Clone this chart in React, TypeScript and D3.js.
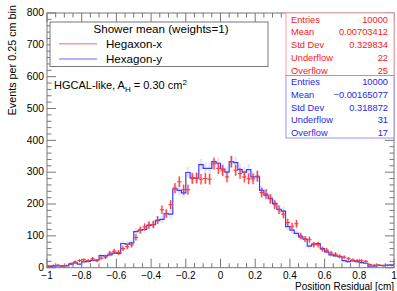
import React from 'react';
import * as d3 from 'd3';

// histogram contents, 80 bins of 0.025 from -1 to 1
const binEdges = [-1, 1];
const nBins = 80;
const hegaxonX = [
  5, 7, 8, 6, 7, 13, 18, 22, 25, 22,
  28, 22, 30, 33, 46, 52, 48, 60, 66, 72,
  95, 118, 128, 134, 136, 150, 182, 170, 198, 250,
  270, 245, 245, 280, 282, 278, 280, 278, 326, 312,
  305, 285, 333, 306, 296, 285, 279, 279, 288, 236,
  232, 216, 198, 182, 168, 142, 130, 138, 100, 90,
  88, 72, 72, 58, 55, 46, 42, 36, 33, 28,
  24, 22, 22, 20, 10, 8, 8, 6, 7, 7
];
const hexagonY = [
  4, 5, 6, 5, 6, 11, 15, 11, 18, 20,
  23, 24, 38, 37, 40, 46, 45, 76, 74, 78,
  113, 118, 120, 133, 135, 148, 152, 170, 168, 248,
  243, 235, 299, 282, 281, 324, 312, 312, 333, 328,
  310, 300, 333, 330, 308, 300, 308, 285, 285, 243,
  228, 218, 202, 183, 178, 129, 118, 108, 97, 90,
  68, 74, 76, 60, 50, 40, 37, 35, 22, 19,
  22, 19, 16, 14, 5, 5, 7, 7, 8, 9
];

const xMajor = [-1, -0.8, -0.6, -0.4, -0.2, 0, 0.2, 0.4, 0.6, 0.8, 1];
const xLabels = ['\u22121', '\u22120.8', '\u22120.6', '\u22120.4', '\u22120.2', '0', '0.2', '0.4', '0.6', '0.8', '1'];
const yMajor = [0, 100, 200, 300, 400, 500, 600, 700, 800];

const redStats = [['Entries', '10000'], ['Mean', '0.00703412'], ['Std Dev', '0.329834'], ['Underflow', '22'], ['Overflow', '25']];
const blueStats = [['Entries', '10000'], ['Mean', '\u22120.00165077'], ['Std Dev', '0.318872'], ['Underflow', '31'], ['Overflow', '17']];

const W = 397, H = 291;
const frame = { left: 47, right: 394, top: 13, bottom: 267.7 };
const font = '"Liberation Sans", Arial, Helvetica, sans-serif';
const RED = 'rgb(255,50,50)';
const BLUE = 'rgb(60,60,255)';
const axisCol = '#777';

export default function App() {
  const x = d3.scaleLinear().domain(binEdges).range([frame.left, frame.right]);
  const y = d3.scaleLinear().domain([0, 800]).range([frame.bottom, frame.top]);
  const bw = (binEdges[1] - binEdges[0]) / nBins;
  const lo = (i: number) => binEdges[0] + i * bw;

  const stepPts: [number, number][] = [];
  hexagonY.forEach((v, i) => {
    stepPts.push([x(lo(i)), y(v)]);
    stepPts.push([x(lo(i + 1)), y(v)]);
  });
  const step = d3.line()(stepPts) || '';

  const xMinor = d3.range(-1, 1.0001, 0.05);
  const yMinor = d3.range(0, 800.1, 20);

  const errBox = (vals: number[], fill: string, key: string) =>
    vals.map((v, i) => {
      const e = Math.sqrt(v);
      const xc = x(lo(i) + bw / 2);
      const w = (x(lo(i + 1)) - x(lo(i))) * 0.6;
      return <rect key={key + i} x={xc - w / 2} y={y(v + e)} width={w} height={Math.min(y(v - e), frame.bottom) - y(v + e)} fill={fill} />;
    });

  const stats = (rows: string[][], top: number, col: string, border: string) => (
    <g>
      <rect x={286} y={top} width={108} height={62.5} fill="white" stroke={border} strokeWidth={1} />
      {rows.map((r, i) => (
        <g key={r[0]} fill={col} fontSize={9.3} fontFamily={font}>
          <text x={291} y={top + 9.5 + i * 12.8}>{r[0]}</text>
          <text x={388} y={top + 9.5 + i * 12.8} textAnchor="end">{r[1]}</text>
        </g>
      ))}
    </g>
  );

  return (
    <svg width={W} height={H} style={{ position: 'absolute', left: 0, top: 0, background: 'white' }}>
      {/* error boxes */}
      {errBox(hegaxonX, 'rgba(255,0,0,0.2)', 'rb')}
      {errBox(hexagonY, 'rgba(0,0,255,0.1)', 'bb')}
      <path d={step} fill="none" stroke={BLUE} strokeWidth={1.2} />
      {hegaxonX.map((v, i) => {
        const e = Math.sqrt(v);
        const xc = x(lo(i) + bw / 2);
        return (
          <g key={'r' + i} stroke={RED} strokeWidth={1}>
            <line x1={x(lo(i))} x2={x(lo(i + 1))} y1={y(v)} y2={y(v)} />
            <line x1={xc} x2={xc} y1={y(v + e)} y2={Math.min(y(v - e), frame.bottom)} />
          </g>
        );
      })}

      {/* frame and ticks */}
      <rect x={frame.left} y={frame.top} width={frame.right - frame.left} height={frame.bottom - frame.top} fill="none" stroke={axisCol} strokeWidth={1} />
      {xMinor.map((t, i) => {
        const major = Math.abs(Math.round(t * 5) - t * 5) < 1e-6;
        const len = major ? 9 : 4.5;
        return (
          <g key={'xt' + i} stroke={axisCol}>
            <line x1={x(t)} x2={x(t)} y1={frame.bottom} y2={frame.bottom - len} />
            <line x1={x(t)} x2={x(t)} y1={frame.top} y2={frame.top + len} />
          </g>
        );
      })}
      {yMinor.map((t, i) => {
        const major = Math.round(t) % 100 === 0;
        const len = major ? 9 : 4.5;
        return (
          <g key={'yt' + i} stroke={axisCol}>
            <line x1={frame.left} x2={frame.left + len} y1={y(t)} y2={y(t)} />
            <line x1={frame.right} x2={frame.right - len} y1={y(t)} y2={y(t)} />
          </g>
        );
      })}
      {xMajor.map((t, i) => (
        <text key={'xl' + i} x={x(t)} y={279.3} textAnchor="middle" fontSize={10} fontFamily={font}>{xLabels[i]}</text>
      ))}
      {yMajor.map((t) => (
        <text key={'yl' + t} x={44} y={y(t) + 3.3} textAnchor="end" fontSize={10.3} fontFamily={font}>{t}</text>
      ))}
      <text x={394} y={290.4} textAnchor="end" fontSize={10} fontFamily={font}>Position Residual [cm]</text>
      <text transform="translate(16,5) rotate(-90)" textAnchor="end" fontSize={10.8} fontFamily={font}>Events per 0.25 cm bin</text>

      {/* legend */}
      <rect x={50} y={22} width={218} height={44.5} fill="white" stroke={axisCol} strokeWidth={1} />
      <text x={161} y={33} textAnchor="middle" fontSize={11.6} fontFamily={font}>Shower mean (weights=1)</text>
      <line x1={59} x2={97} y1={43.7} y2={43.7} stroke="rgba(255,0,0,0.4)" strokeWidth={1.5} />
      <line x1={59} x2={97} y1={59} y2={59} stroke="rgba(0,0,255,0.4)" strokeWidth={1.5} />
      <text x={106} y={48} fontSize={11.6} fontFamily={font}>Hegaxon-x</text>
      <text x={106} y={63.3} fontSize={11.6} fontFamily={font}>Hexagon-y</text>

      <text x={54} y={89} fontSize={11} fontFamily={font}>
        HGCAL-like, A<tspan dy={3} fontSize={8}>H</tspan><tspan dy={-3}> = 0.30 cm</tspan><tspan dy={-4} fontSize={8}>2</tspan>
      </text>

      {stats(redStats, 13, 'rgb(255,20,20)', 'rgb(255,160,160)')}
      {stats(blueStats, 75.5, 'rgb(40,40,230)', 'rgb(150,150,255)')}
    </svg>
  );
}
